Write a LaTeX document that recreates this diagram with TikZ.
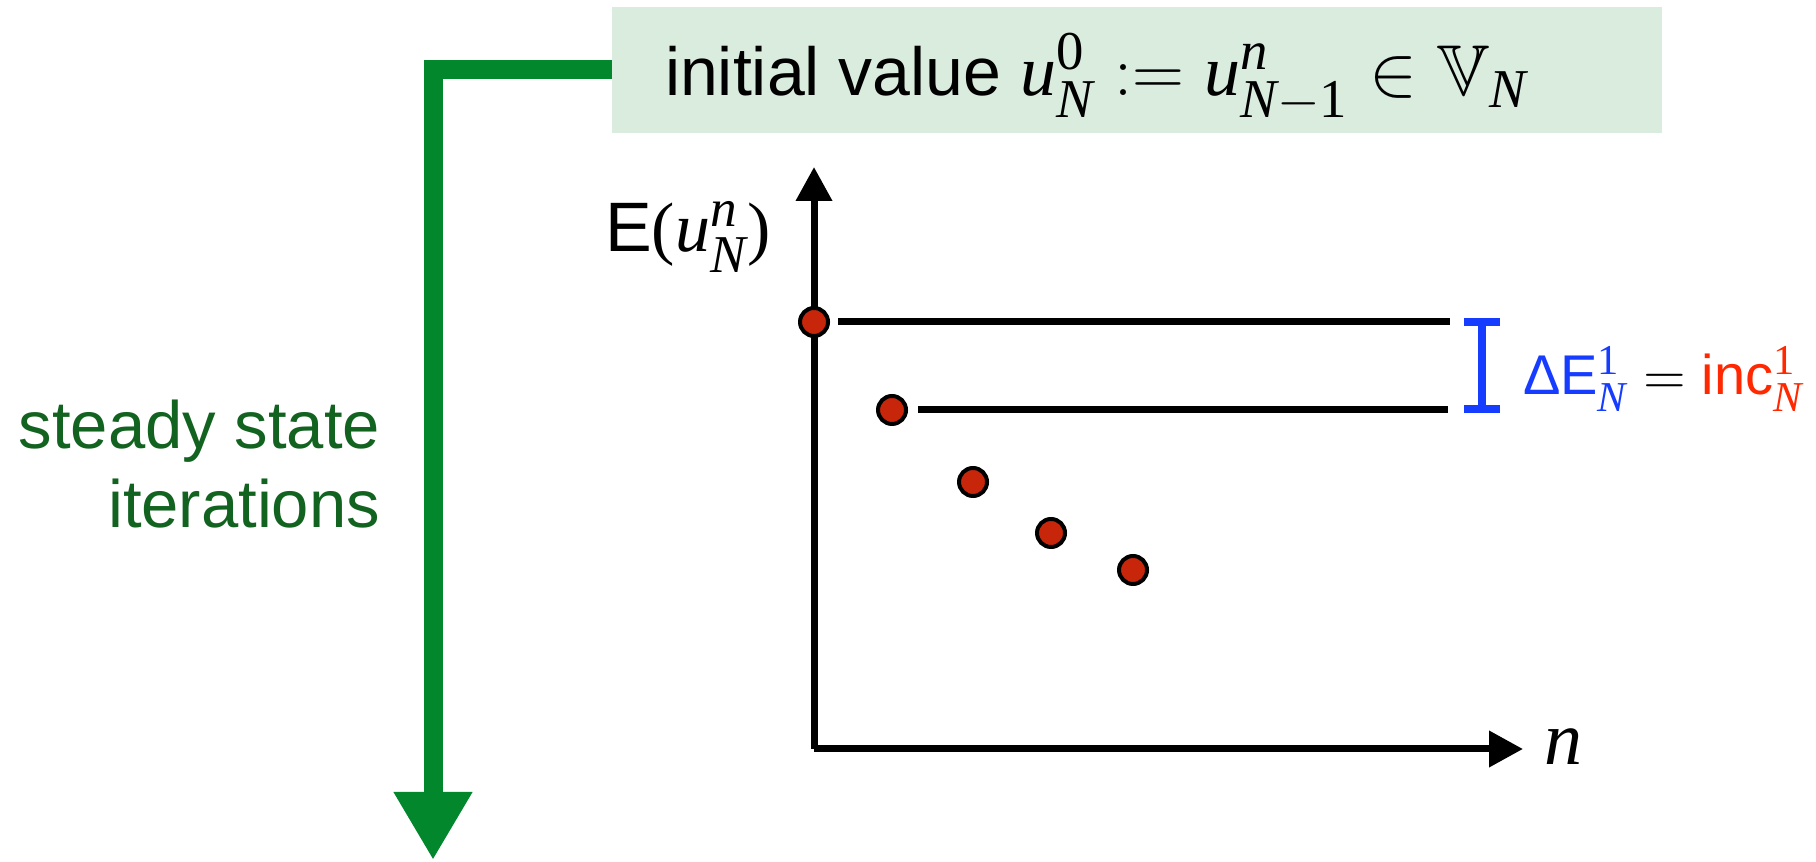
\documentclass[tikz,border=0pt]{standalone}
\usepackage{fix-cm}
\usepackage{amsmath,amssymb}
\usepackage[no-math]{fontspec}
\setmainfont{Liberation Sans}
\newfontfamily\tms{Liberation Serif}
\newcommand\ti[1]{\text{\tms\itshape #1}}
\newcommand\tr[1]{\text{\tms #1}}
\renewcommand\defaultscriptratio{.76}
\usetikzlibrary{arrows.meta}
\definecolor{boxgreen}{RGB}{217,236,222}
\definecolor{arrgreen}{RGB}{2,135,44}
\definecolor{txtgreen}{RGB}{18,98,32}
\definecolor{dotred}{RGB}{200,38,10}
\definecolor{incred}{RGB}{255,40,0}
\definecolor{deblue}{RGB}{22,60,255}
\begin{document}
\begin{tikzpicture}[x=0.25pt,y=-0.25pt,
  every node/.style={inner sep=0pt,outer sep=0pt},
  axis/.style={line width=1.75pt,line join=miter,-{Triangle[width=8.75pt,length=8.5pt]}},
  level/.style={line width=1.75pt},
  dot/.style={circle,fill=dotred,draw=black,line width=1pt,minimum size=7pt},
  bigarrow/.style={line width=4.75pt,draw=arrgreen,line join=miter,-{Triangle[width=18.5pt,length=17pt]}},
  bar/.style={line width=2pt,draw=deblue}]
\useasboundingbox (0,0) rectangle (1816,862);
% initial value box
\node[fill=boxgreen,minimum width=262.5pt,minimum height=31.5pt,anchor=north west] (box) at (612,7) {};
\node[anchor=base west,font=\fontsize{17}{20}\selectfont] (init) at (665,96)
  {initial value {\fontsize{18}{20}\selectfont$\ti{u}_{\ti{N}}^{\tr{0}} := \ti{u}_{\ti{N}-\tr{1}}^{\ti{n}} \in \mathbb{V}_{\ti{N}}$}};
% green L arrow
\coordinate (gtip) at (433,860);
\draw[bigarrow] (box.west) -| (gtip);
\node[anchor=base east,font=\fontsize{16.75}{20}\selectfont,text=txtgreen] (ss1) at (380,449) {steady state};
\node[anchor=base east,font=\fontsize{16.75}{20}\selectfont,text=txtgreen] (ss2) at (380,528) {iterations};
% axes
\coordinate (O) at (814,749);
\coordinate (ytip) at (814,167);
\coordinate (xtip) at (1523,749);
\draw[axis] (O) -- (ytip);
\draw[axis] (O) -- (xtip);
\node[anchor=base west,font=\fontsize{17.5}{20}\selectfont] (ylab) at (605,252) {E$\tr{(}\ti{u}_{\ti{N}}^{\ti{n}}\tr{)}$};
\node[anchor=base west,font=\fontsize{19}{20}\selectfont] (xlab) at (1544,765) {\tms\itshape n};
% level lines
\coordinate (l1a) at (838,322);
\coordinate (l1b) at (1450,322);
\coordinate (l2a) at (918,410);
\coordinate (l2b) at (1448,410);
\draw[level] (l1a) -- (l1b);
\draw[level] (l2a) -- (l2b);
% dots
\node[dot] (d1) at (814,322) {};
\node[dot] (d2) at (892,410) {};
\node[dot] (d3) at (973,482) {};
\node[dot] (d4) at (1051,533) {};
\node[dot] (d5) at (1133,570) {};
% blue bar
\coordinate (bt) at (1482,322);
\coordinate (bb) at (1482,409);
\draw[bar] (bt) -- (bb);
\draw[bar] ([xshift=-4.5pt]bt) -- ([xshift=4.5pt]bt);
\draw[bar] ([xshift=-4.5pt]bb) -- ([xshift=4.5pt]bb);
\node[anchor=base west,font=\fontsize{14}{16}\selectfont] (dE) at (1523,395)
  {\textcolor{deblue}{ΔE$^{\tr{1}}_{\ti{N}}$} $=$ \textcolor{incred}{inc$^{\tr{1}}_{\ti{N}}$}};
\end{tikzpicture}
\end{document}
